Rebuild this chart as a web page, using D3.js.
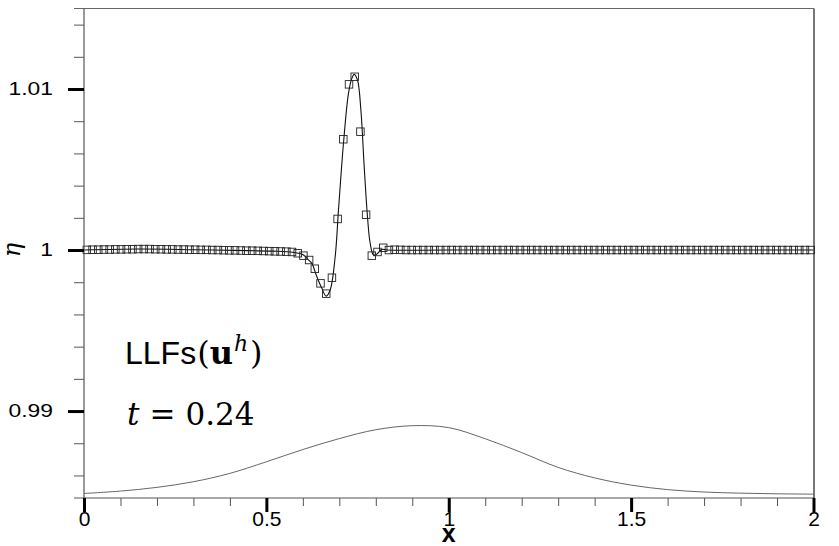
<!DOCTYPE html>
<html><head><meta charset="utf-8">
<script src="https://cdn.jsdelivr.net/npm/d3@7"></script>
<style>body{margin:0;background:#fff}svg{display:block}</style>
</head><body>
<script>
// ---- data ----
const xMajorTicks = [0, 0.5, 1, 1.5, 2];
const xMinorTicks = [0.1,0.2,0.3,0.4,0.6,0.7,0.8,0.9,1.1,1.2,1.3,1.4,1.6,1.7,1.8,1.9];
const yMajorTicks = [0.99, 1, 1.01];
const yMinorTicks = [0.986,0.988,0.992,0.994,0.996,0.998,1.002,1.004,1.006,1.008,1.012,1.014];
const xTickLabels = ["0","0.5","1","1.5","2"];
const yTickLabels = ["0.99","1","1.01"];

// numerical solution (128 cell averages, cell centres)
const nCells = 128;
const cellX = d3.range(nCells).map(i => (i + 0.5) / nCells * 2);
const cellEta = [
 1.00001,1.00002,1.00002,1.00003,1.00003,1.00004,1.00004,1.00005,1.00005,1.00006,
 1.00006,1.00006,1.00005,1.00005,1.00004,1.00004,1.00003,1.00003,1.00002,1.00002,
 1.00001,1.00001,1.00000,1.00000,0.99999,0.99998,0.99998,0.99997,0.99996,0.99996,
 0.99995,0.99994,0.99993,0.99992,0.99991,0.99990,0.99988,0.99980,0.99965,0.99938,
 0.99884,0.99793,0.99729,0.99828,1.00193,1.00688,1.01029,1.01076,1.00735,1.00219,
 0.99965,0.99988,1.00014,1.00000,1.00002,1.00001,1.00000,1.00000,1.00000,1.00000,
 1.00000,1.00000,1.00000,1.00000,1.00000,1.00000,1.00000,1.00000,1.00000,1.00000,
 1.00000,1.00000,1.00000,1.00000,1.00000,1.00000,1.00000,1.00000,1.00000,1.00000,
 1.00000,1.00000,1.00000,1.00000,1.00000,1.00000,1.00000,1.00000,1.00000,1.00000,
 1.00000,1.00000,1.00000,1.00000,1.00000,1.00000,1.00000,1.00000,1.00000,1.00000,
 1.00000,1.00000,1.00000,1.00000,1.00000,1.00000,1.00000,1.00000,1.00000,1.00000,
 1.00000,1.00000,1.00000,1.00000,1.00000,1.00000,1.00000,1.00000,1.00000,1.00000,
 1.00000,1.00000,1.00000,1.00000,1.00000,1.00000,1.00000,1.00000
];

// reference solution
const refX = [0,0.15,0.3,0.45,0.52,0.56,0.5879,0.6016,0.6145,0.6247,0.6384,0.6521,0.6639,0.6749,0.6886,0.6977,0.7114,0.7251,0.7344,0.7407,0.7498,0.7591,0.7682,0.7772,0.7846,0.7937,0.8030,0.8167,0.8305,1.0,1.5,2.0];
const refEta = [1.0,1.00006,1.00002,0.99996,0.99993,0.99989,0.99980,0.99969,0.99941,0.99917,0.99834,0.99762,0.99714,0.99752,0.99958,1.00248,1.00663,1.00973,1.01066,1.01091,1.01056,1.00870,1.00517,1.00207,1.00042,0.99969,0.99975,1.00004,1.0,1.0,1.0,1.0];

// bottom (scaled bathymetry) curve
const bottomX = [0,0.1,0.2,0.3,0.4,0.5,0.6,0.7,0.8,0.9,1.0,1.1,1.2,1.3,1.4,1.5,1.6,1.7,1.8,1.9,2.0];
const bottomEta = [0.98488,0.98503,0.98526,0.98561,0.98613,0.98685,0.98761,0.98829,0.98884,0.98909,0.98897,0.98828,0.98742,0.98650,0.98585,0.98540,0.98512,0.98497,0.98490,0.98486,0.98484];

// ---- chart ----
const W = 839, H = 546;
const svg = d3.select("body").append("svg").attr("width", W).attr("height", H);
svg.append("rect").attr("width", W).attr("height", H).attr("fill", "#fff");

const x = d3.scaleLinear().domain([0, 2]).range([84, 813.5]);
const y = d3.scaleLinear().domain([0.98460, 1.015]).range([498, 8.5]);

// frame
svg.append("line").attr("x1", 74).attr("x2", 814).attr("y1", y(1.015)).attr("y2", y(1.015)).attr("stroke", "#666").attr("stroke-width", 1.2);
svg.append("line").attr("x1", 814).attr("x2", 814).attr("y1", y(1.015)).attr("y2", 498).attr("stroke", "#777").attr("stroke-width", 2);

// bottom curve
svg.append("path")
  .datum(bottomX.map((d, i) => [d, bottomEta[i]]))
  .attr("fill", "none").attr("stroke", "#555").attr("stroke-width", 0.9)
  .attr("d", d3.line().x(d => x(d[0])).y(d => y(d[1])).curve(d3.curveCatmullRom));

// reference line
svg.append("path")
  .datum(refX.map((d, i) => [d, refEta[i]]))
  .attr("fill", "none").attr("stroke", "#111").attr("stroke-width", 1.1)
  .attr("d", d3.line().x(d => x(d[0])).y(d => y(d[1])).curve(d3.curveCatmullRom));

// squares
const s = 7.5;
svg.append("g").selectAll("rect")
  .data(cellX.map((d, i) => [d, cellEta[i]]))
  .join("rect")
  .attr("x", d => x(d[0]) - s / 2).attr("y", d => y(d[1]) - s / 2)
  .attr("width", s).attr("height", s)
  .attr("fill", "none").attr("stroke", "#222").attr("stroke-width", 0.9);

// x axis minor
const gxm = svg.append("g").attr("transform", "translate(0,498)")
  .call(d3.axisBottom(x).tickValues(xMinorTicks).tickSize(8).tickFormat(""));
gxm.select(".domain").attr("d", "M74,0H814").attr("stroke", "#555").attr("stroke-width", 1.2);
gxm.selectAll(".tick line").attr("stroke", "#555").attr("stroke-width", 1);

// x axis major
const gx = svg.append("g").attr("transform", "translate(0,498)")
  .call(d3.axisBottom(x).tickValues(xMajorTicks).tickSize(14).tickPadding(-1)
    .tickFormat((d, i) => xTickLabels[i]));
gx.select(".domain").remove();
gx.selectAll(".tick line").attr("stroke", "#000").attr("stroke-width", 3);
gx.selectAll(".tick text").attr("font-family", "Liberation Sans, Arial, sans-serif")
  .attr("font-size", 21).attr("fill", "#000");

// y axis minor
const gym = svg.append("g").attr("transform", "translate(84,0)")
  .call(d3.axisLeft(y).tickValues(yMinorTicks).tickSize(10).tickFormat(""));
gym.select(".domain").attr("d", "M0,8.5V498").attr("stroke", "#555").attr("stroke-width", 1.2);
gym.selectAll(".tick line").attr("stroke", "#555").attr("stroke-width", 1);

// y axis major
const gy = svg.append("g").attr("transform", "translate(84,0)")
  .call(d3.axisLeft(y).tickValues(yMajorTicks).tickSize(16)
    .tickFormat((d, i) => yTickLabels[i]));
gy.select(".domain").remove();
gy.selectAll(".tick line").attr("stroke", "#000").attr("stroke-width", 3);
gy.selectAll(".tick text")
  .attr("x", 0).attr("transform", "translate(-31,0) scale(1.27,1)")
  .attr("font-family", "Liberation Sans, Arial, sans-serif")
  .attr("font-size", 18).attr("fill", "#000");

// axis titles
svg.append("text").attr("x", x(1)).attr("y", 542).attr("text-anchor", "middle")
  .attr("font-family", "Liberation Sans, Arial, sans-serif").attr("font-weight", "bold")
  .attr("font-size", 25).text("x");
svg.append("text").attr("transform", `translate(20,${y(1)}) rotate(-90)`)
  .attr("text-anchor", "middle")
  .attr("font-family", "DejaVu Serif, Liberation Serif, serif").attr("font-style", "italic")
  .attr("font-size", 24).text("η");

// annotations
const a1 = svg.append("text").attr("x", 125).attr("y", 364).attr("font-size", 32);
a1.append("tspan").attr("font-family", "Liberation Sans, Arial, sans-serif").text("LLFs");
a1.append("tspan").attr("font-family", "DejaVu Serif, serif").attr("dx", 1).text("(");
a1.append("tspan").attr("font-family", "DejaVu Serif, serif").attr("font-weight", "bold").text("u");
a1.append("tspan").attr("font-family", "DejaVu Serif, serif").attr("font-style", "italic")
  .attr("font-size", 22).attr("dy", -13).attr("dx", 1).text("h");
a1.append("tspan").attr("font-family", "DejaVu Serif, serif").attr("dy", 13).attr("dx", 2).text(")");

const a2 = svg.append("text").attr("x", 127).attr("y", 425).attr("font-size", 31)
  .attr("font-family", "DejaVu Serif, serif");
a2.append("tspan").attr("font-style", "italic").text("t");
a2.append("tspan").attr("dx", 10).text("=");
a2.append("tspan").attr("dx", 10).text("0.24");
</script>
</body></html>
